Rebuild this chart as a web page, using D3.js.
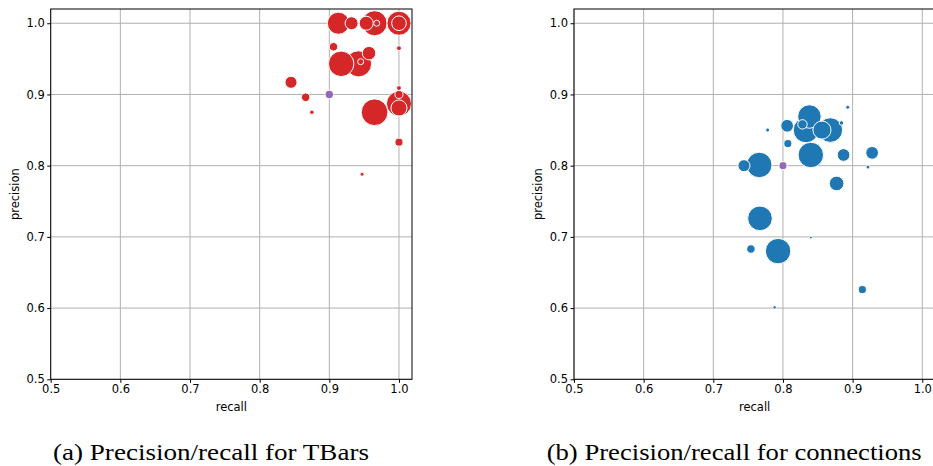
<!DOCTYPE html>
<html>
<head>
<meta charset="utf-8">
<script src="https://cdnjs.cloudflare.com/ajax/libs/d3/7.8.5/d3.min.js"></script>
<style>
  body { margin: 0; background: #fff; }
  svg { display: block; }
  .tick text { font-family: "DejaVu Sans", sans-serif; font-size: 11.5px; fill: #000; }
</style>
</head>
<body>
<svg id="chart"></svg>
<script>
// ----- data: TBars (left) -----
const tbarRecall    = [0.913, 0.932, 0.965, 0.953, 0.968, 1.0, 1.0, 0.906, 1.0, 0.917, 0.942, 0.945, 0.957, 0.845, 0.866, 0.875, 0.965, 1.0, 1.0, 1.0, 1.0, 1.0, 0.947];
const tbarPrecision = [1.0, 1.0, 1.0, 1.0, 1.0, 1.0, 1.0, 0.967, 0.965, 0.943, 0.943, 0.946, 0.958, 0.917, 0.896, 0.875, 0.875, 0.887, 0.881, 0.9, 0.909, 0.833, 0.788];
const tbarWeight    = [121, 42, 156, 49, 9, 144, 53, 18, 6, 161, 169, 9, 45, 36, 18, 5, 177, 156, 64, 16, 6, 16, 4];
const tbarOverall   = { recall: 0.9, precision: 0.9, weight: 18 };

// ----- data: connections (right) -----
const connRecall    = [0.893, 0.838, 0.806, 0.828, 0.833, 0.856, 0.868, 0.884, 0.778, 0.807, 0.840, 0.887, 0.928, 0.766, 0.744, 0.922, 0.877, 0.767, 0.840, 0.754, 0.793, 0.914, 0.788];
const connPrecision = [0.882, 0.869, 0.856, 0.858, 0.850, 0.850, 0.850, 0.860, 0.850, 0.831, 0.815, 0.815, 0.818, 0.801, 0.800, 0.798, 0.775, 0.726, 0.699, 0.683, 0.680, 0.626, 0.601];
const connWeight    = [4, 137, 40, 22, 161, 81, 151, 5, 4, 16, 161, 40, 40, 161, 36, 4, 53, 151, 2, 18, 161, 16, 3];
const connOverall   = { recall: 0.8, precision: 0.8, weight: 16 };

const ticks = [0.5, 0.6, 0.7, 0.8, 0.9, 1.0];

const width = 933, height = 466;
const svg = d3.select("#chart").attr("width", width).attr("height", height);

const size = d3.scaleSqrt().domain([0, 160]).range([0, 12.7]);

function drawPanel(left, right, recall, precision, weight, overall, color, caption, captionX, captionLen) {
  const top = 9, bottom = 379.3;

  const x = d3.scaleLinear().domain([0.5, 1.0187]).range([left, right]);
  const y = d3.scaleLinear().domain([0.5, 1.02]).range([bottom, top]);

  const g = svg.append("g");

  // grid
  g.append("g").selectAll("line")
    .data(ticks)
    .join("line")
    .attr("x1", d => x(d)).attr("x2", d => x(d))
    .attr("y1", top).attr("y2", bottom)
    .attr("stroke", "#b0b0b0").attr("stroke-width", 1);

  g.append("g").selectAll("line")
    .data(ticks)
    .join("line")
    .attr("x1", left).attr("x2", right)
    .attr("y1", d => y(d)).attr("y2", d => y(d))
    .attr("stroke", "#b0b0b0").attr("stroke-width", 1);

  // points, biggest first so the small ones sit on top
  const pts = recall.map((r, i) => ({ r, p: precision[i], w: weight[i] }))
    .sort((a, b) => b.w - a.w);

  g.append("g").selectAll("circle")
    .data(pts)
    .join("circle")
    .attr("cx", d => x(d.r))
    .attr("cy", d => y(d.p))
    .attr("r", d => size(d.w))
    .attr("fill", color)
    .attr("stroke", "#fff")
    .attr("stroke-width", 1);

  g.append("circle")
    .attr("cx", x(overall.recall))
    .attr("cy", y(overall.precision))
    .attr("r", size(overall.weight))
    .attr("fill", "#9467bd")
    .attr("stroke", "#fff")
    .attr("stroke-width", 1);

  // spines
  g.append("rect")
    .attr("x", left).attr("y", top)
    .attr("width", right - left).attr("height", bottom - top)
    .attr("fill", "none").attr("stroke", "#000").attr("stroke-width", 1);

  // axes
  g.append("g")
    .attr("transform", `translate(0,${bottom})`)
    .call(d3.axisBottom(x).tickValues(ticks).tickFormat(d3.format(".1f")).tickSize(3.5).tickPadding(2))
    .call(a => a.select(".domain").remove());

  g.append("g")
    .attr("transform", `translate(${left},0)`)
    .call(d3.axisLeft(y).tickValues(ticks).tickFormat(d3.format(".1f")).tickSize(3.5).tickPadding(2.5))
    .call(a => a.select(".domain").remove());

  // labels
  g.append("text")
    .attr("x", (left + right) / 2)
    .attr("y", 410.5)
    .attr("text-anchor", "middle")
    .attr("font-family", "DejaVu Sans, sans-serif")
    .attr("font-size", 11.5)
    .text("recall");

  g.append("text")
    .attr("transform", `translate(${left - 32},${(top + bottom) / 2}) rotate(-90)`)
    .attr("text-anchor", "middle")
    .attr("font-family", "DejaVu Sans, sans-serif")
    .attr("font-size", 11.5)
    .text("precision");

  g.append("text")
    .attr("x", captionX)
    .attr("y", 460)
    .attr("font-family", "Liberation Serif, serif")
    .attr("font-size", 23)
    .attr("textLength", captionLen)
    .attr("lengthAdjust", "spacingAndGlyphs")
    .text(caption);
}

drawPanel(50.7, 412, tbarRecall, tbarPrecision, tbarWeight, tbarOverall, "#d62728",
  "(a) Precision/recall for TBars", 53, 316);
drawPanel(574, 935.3, connRecall, connPrecision, connWeight, connOverall, "#1f77b4",
  "(b) Precision/recall for connections", 546.7, 375);
</script>
</body>
</html>
